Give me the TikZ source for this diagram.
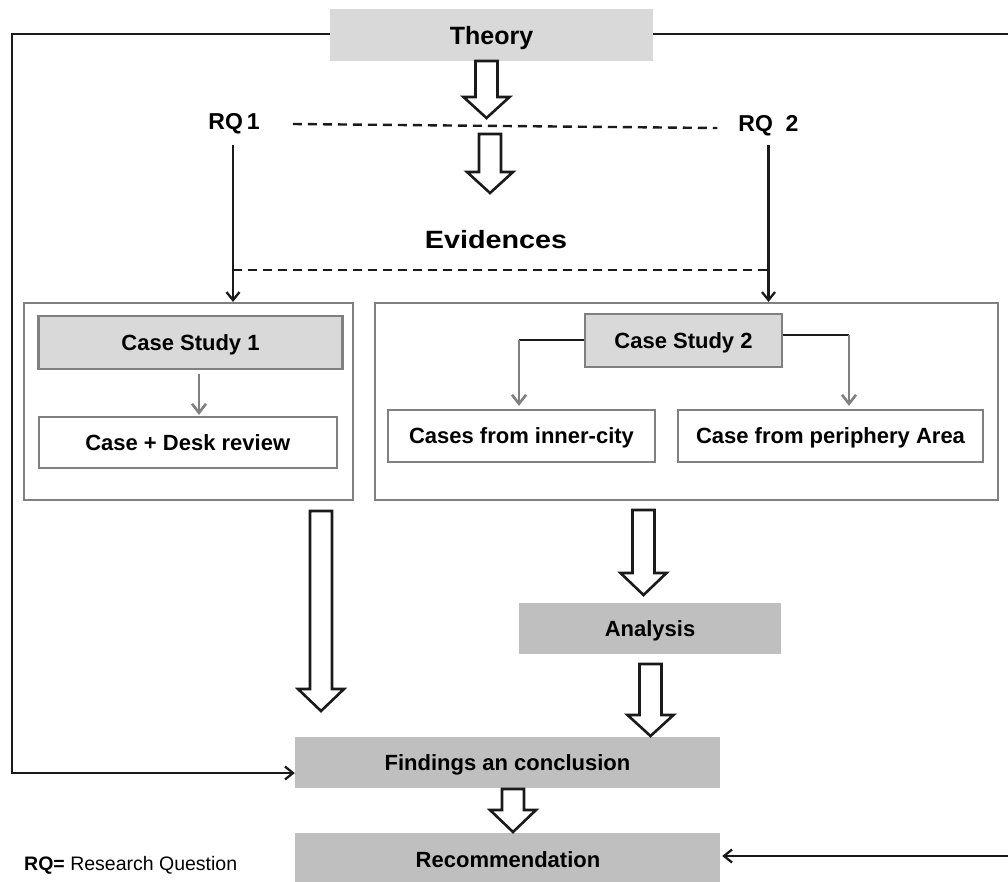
\documentclass[tikz,border=0pt]{standalone}
\usepackage{fontspec}
\usepackage{graphicx}
\setmainfont{Liberation Sans}
\usetikzlibrary{arrows.meta}
\definecolor{lg}{HTML}{D9D9D9}
\definecolor{mg}{HTML}{BFBFBF}
\definecolor{bd}{HTML}{808080}
\definecolor{ln}{HTML}{1A1A1A}
\newcommand\fsz[1]{\fontsize{#1}{#1}\selectfont}
% x, top, head start, tip
\newcommand\blkarrow[4]{%
  \draw[blockarr] ({#1-11},#2) -- ({#1+11},#2) -- ({#1+11},#3) -- ({#1+23},#3) -- (#1,#4) -- ({#1-23},#3) -- ({#1-11},#3) -- cycle;}
\begin{document}
\begin{tikzpicture}[x=1pt,y=-1pt,
  boxtext/.style={font=\bfseries\fsz{22}, text=black, text depth=0pt},
  lightbox/.style={boxtext, fill=lg, draw=bd, line width=2.2pt, inner sep=0pt},
  whitebox/.style={boxtext, fill=white, draw=bd, line width=2.2pt, inner sep=0pt},
  darkbox/.style={boxtext, fill=mg, inner sep=0pt},
  frame/.style={draw=bd, line width=2.2pt, inner sep=0pt},
  arr/.style={draw=ln, line width=2.3pt, -{Straight Barb[length=8pt,width=13pt]}},
  plainline/.style={draw=ln, line width=2.3pt},
  grayarr/.style={draw=bd, line width=2.6pt, -{Straight Barb[length=9pt,width=14pt]}},
  dashline/.style={draw=ln, line width=2.4pt, dash pattern=on 9pt off 6pt},
  blockarr/.style={draw=ln, line width=2.6pt, fill=white, line join=miter},
  label/.style={font=\bfseries\fsz{23}, inner sep=0pt}
]
\useasboundingbox (0,0) rectangle (1008,881);
\fill[white] (0,0) rectangle (1008,881);

% main nodes
\node[darkbox, fill=lg, font=\bfseries\fsz{25}, minimum width=323pt, minimum height=52pt] (theory) at (491.5,35) {Theory};
\node[label] (rq1) at (234,124) {RQ\,1};
\node[label] (rq2) at (768.5,126) {RQ\ \ 2};
\node[inner sep=0pt] (evid) at (496,240) {\scalebox{1.15}[1]{\bfseries\fsz{25}Evidences}};

\node[frame, minimum width=329pt, minimum height=197pt] (cont1) at (188.5,401.5) {};
\node[frame, minimum width=623pt, minimum height=197pt] (cont2) at (686.5,401.5) {};

\node[lightbox, minimum width=304pt, minimum height=53pt] (cs1) at (190.5,342.5) {Case Study 1};
\node[whitebox, minimum width=298pt, minimum height=51pt] (desk) at (187.75,442.5) {Case + Desk review};
\node[lightbox, minimum width=197pt, minimum height=53pt] (cs2) at (683.5,340.5) {Case Study 2};
\node[whitebox, minimum width=267pt, minimum height=52pt] (inner) at (521.5,436) {Cases from inner-city};
\node[whitebox, minimum width=305pt, minimum height=52pt] (peri) at (830.5,436) {Case from periphery Area};

\node[darkbox, minimum width=262pt, minimum height=51pt] (analysis) at (650,628.5) {Analysis};
\node[darkbox, minimum width=425pt, minimum height=51pt] (findings) at (507.5,762.5) {Findings an conclusion};
\node[darkbox, minimum width=425pt, minimum height=54pt] (recom) at (507.5,860) {};
\node[boxtext, inner sep=0pt] (recomtext) at (508,860) {Recommendation};

\node[anchor=west, inner sep=0pt, font=\fsz{19.5}] (legend) at (24,865) {\textbf{RQ=} Research Question};

% feedback lines
\coordinate (fl1) at (12,34);
\coordinate (fl2) at (12,773);
\draw[arr] (theory.west |- fl1) -- (fl1) -- (fl2) -- (findings.west |- fl2);
\coordinate (fr1) at (1016,34);
\coordinate (fr2) at (1016,856);
\draw[arr] (theory.east |- fr1) -- (fr1) -- (fr2) -- ([xshift=2pt]recom.east |- fr2);

% RQ lines
\draw[dashline] ([xshift=33pt]rq1.east) -- ([xshift=-21pt,yshift=-2pt]rq2.west);
\coordinate (v1) at (233,0);
\draw[arr] ([yshift=-11pt]rq1.south -| v1) -- (v1 |- cont1.north);
\draw[arr] ([yshift=-9pt]rq2.south) -- (rq2.south |- cont2.north);
\coordinate (e1) at (233,270);
\coordinate (e2) at (768.5,270);
\draw[dashline] (e1) -- (e2);

% case study connectors
\coordinate (g1) at (199,0);
\draw[grayarr, shorten <=4pt, shorten >=1pt] (cs1.south -| g1) -- (desk.north -| g1);
\coordinate (c1) at (519,340);
\coordinate (c2) at (849,335);
\draw[plainline] (cs2.west |- c1) -- (c1);
\draw[grayarr, shorten >=3pt] (c1) -- (inner.north -| c1);
\draw[plainline] (cs2.east |- c2) -- (c2);
\draw[grayarr, shorten >=3pt] (c2) -- (peri.north -| c2);

% block arrows
\blkarrow{486.5}{61}{97}{118}
\blkarrow{490}{134}{172}{193}
\blkarrow{321}{511}{689}{711}
\blkarrow{643.5}{510}{573}{595}
\blkarrow{650.5}{664}{715}{736}
\blkarrow{513}{789}{810}{832}
\end{tikzpicture}
\end{document}
